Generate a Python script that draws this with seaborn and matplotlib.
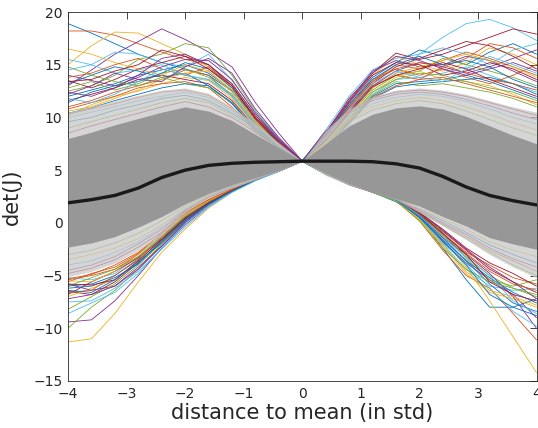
import numpy as np
import pandas as pd
import seaborn as sns
import matplotlib
import matplotlib.pyplot as plt
matplotlib.use('Agg')

sns.set_theme(style='white')
plt.rcParams['font.family'] = ['DejaVu Sans']

# grid of the curves (in std)
x_left = [-4.0, -3.6, -3.2, -2.8, -2.4, -2.0, -1.6, -1.2, -0.8, -0.4]
x_mid = [0.0]
x_right = [0.4, 0.8, 1.2, 1.6, 2.0, 2.4, 2.8, 3.2, 3.6, 4.0]
y_at_zero = 5.85

# left halves of the individual curves (x = -4 ... -0.4)
left_halves = [
    [18.9, 18.0, 17.0, 16.0, 15.2, 14.6, 14.0, 12.5, 10.0, 7.8],
    [18.2, 18.2, 17.8, 17.0, 16.2, 15.5, 15.0, 13.2, 10.2, 7.9],
    [15.0, 16.8, 18.1, 18.0, 17.0, 16.0, 14.8, 12.8, 10.0, 7.6],
    [13.0, 14.5, 16.0, 17.2, 18.4, 17.4, 16.2, 14.8, 11.4, 8.5],
    [12.5, 13.0, 14.0, 15.5, 16.0, 17.0, 16.6, 14.0, 10.6, 8.0],
    [14.5, 15.0, 16.2, 16.0, 15.2, 14.8, 16.0, 13.5, 10.5, 8.0],
    [13.5, 12.8, 13.6, 14.6, 15.2, 15.8, 15.0, 13.0, 10.0, 7.7],
    [12.0, 12.6, 13.2, 14.0, 14.5, 15.0, 14.2, 12.6, 9.6, 7.5],
    [11.0, 11.6, 12.4, 13.0, 13.6, 14.5, 14.0, 12.0, 9.2, 7.3],
    [10.2, 11.2, 12.0, 12.5, 13.2, 13.8, 13.5, 11.8, 9.0, 7.2],
    [14.0, 13.5, 13.0, 13.8, 14.8, 15.5, 15.4, 13.6, 10.4, 7.9],
    [12.8, 13.4, 12.6, 13.2, 14.2, 14.6, 13.8, 12.2, 9.4, 7.4],
    [15.5, 15.0, 14.2, 14.5, 15.0, 14.0, 13.6, 12.0, 9.3, 7.3],
    [11.6, 12.2, 12.8, 13.6, 14.0, 13.6, 13.2, 11.6, 9.0, 7.2],
    [13.2, 14.0, 14.8, 14.4, 13.8, 14.2, 13.0, 11.3, 8.8, 7.1],
    [10.8, 11.4, 12.0, 12.8, 13.2, 13.4, 12.8, 11.0, 8.6, 7.0],
    [16.5, 16.0, 15.2, 14.6, 14.0, 15.0, 14.4, 12.4, 9.5, 7.4],
    [12.4, 12.0, 12.8, 14.0, 15.6, 16.0, 15.0, 13.2, 10.2, 7.8],
    [9.0, 9.6, 10.2, 10.8, 11.4, 11.8, 11.4, 10.2, 8.8, 7.3],
    [10.0, 10.5, 11.0, 11.6, 12.0, 12.4, 11.9, 10.6, 9.1, 7.5],
    [8.5, 9.2, 9.8, 10.4, 11.0, 11.5, 11.0, 10.0, 8.6, 7.2],
    [9.6, 10.0, 10.7, 11.2, 11.8, 12.1, 11.6, 10.4, 9.0, 7.4],
    [10.3, 10.8, 11.3, 11.9, 12.4, 12.6, 12.1, 10.8, 9.2, 7.5],
    [-11.3, -11.0, -8.6, -5.6, -2.8, -0.6, 1.4, 2.9, 4.0, 4.9],
    [-9.4, -9.2, -7.4, -5.0, -2.4, -0.2, 1.6, 3.0, 4.1, 4.9],
    [-10.0, -8.0, -6.4, -4.4, -2.0, 0.2, 1.8, 3.1, 4.1, 5.0],
    [-7.5, -7.4, -6.2, -4.6, -2.5, -0.4, 1.5, 2.9, 4.0, 4.9],
    [-6.5, -6.8, -5.6, -3.8, -1.8, 0.4, 1.9, 3.1, 4.1, 5.0],
    [-6.0, -5.8, -5.0, -3.5, -1.6, 0.5, 2.0, 3.2, 4.2, 5.0],
    [-5.4, -5.0, -4.4, -3.0, -1.0, 0.8, 2.1, 3.2, 4.2, 5.0],
    [-7.0, -6.2, -5.4, -3.6, -1.4, 0.6, 2.0, 3.1, 4.1, 5.0],
    [-5.8, -6.4, -6.0, -4.2, -2.2, 0.0, 1.7, 3.0, 4.1, 4.9],
    [-8.2, -7.0, -5.8, -4.0, -1.9, 0.3, 1.8, 3.1, 4.1, 5.0],
    [-5.2, -5.4, -4.8, -3.2, -1.2, 0.7, 2.1, 3.2, 4.2, 5.0],
    [-6.8, -5.6, -4.6, -3.3, -1.5, 0.5, 1.9, 3.1, 4.1, 5.0],
    [-6.2, -6.0, -5.2, -3.9, -1.7, 0.3, 1.8, 3.0, 4.1, 4.9],
    [-5.6, -4.8, -4.2, -2.9, -1.1, 0.9, 2.2, 3.2, 4.2, 5.0],
    [-3.5, -3.0, -2.4, -1.5, -0.2, 1.4, 2.6, 3.4, 4.2, 5.0],
    [-4.5, -4.0, -3.2, -2.0, -0.6, 1.2, 2.5, 3.4, 4.2, 5.0],
    [-3.0, -2.6, -1.9, -1.0, 0.2, 1.6, 2.7, 3.5, 4.2, 5.0],
    [-4.0, -3.6, -2.8, -1.8, -0.4, 1.3, 2.5, 3.4, 4.2, 5.0],
    [-4.8, -4.3, -3.5, -2.3, -0.9, 1.1, 2.4, 3.3, 4.1, 4.9],
    [11.4, 12.4, 13.0, 13.4, 14.2, 15.2, 14.6, 12.8, 9.8, 7.5],
    [13.8, 14.2, 15.0, 15.6, 14.6, 14.0, 14.8, 13.0, 9.8, 7.6],
    [10.6, 11.0, 11.8, 12.6, 13.6, 14.2, 14.4, 12.6, 9.6, 7.4],
    [12.2, 13.0, 14.2, 13.6, 13.4, 14.8, 15.6, 14.2, 10.8, 8.1],
    [14.8, 14.0, 13.4, 13.0, 13.8, 13.2, 12.8, 11.4, 8.9, 7.1],
    [11.8, 11.4, 12.2, 13.4, 14.6, 14.0, 13.6, 12.2, 9.4, 7.3],
    [13.4, 13.6, 14.4, 15.0, 16.4, 15.8, 14.6, 13.0, 9.9, 7.6],
    [10.4, 10.9, 11.6, 12.2, 12.8, 13.2, 13.0, 11.4, 8.8, 7.1],
    [-6.6, -6.4, -5.0, -3.4, -1.3, 0.6, 2.0, 3.1, 4.1, 5.0],
    [-5.5, -5.6, -4.6, -3.0, -1.1, 0.8, 2.1, 3.2, 4.2, 5.0],
    [-7.2, -6.8, -6.0, -4.4, -2.2, 0.1, 1.8, 3.0, 4.1, 4.9],
    [-6.0, -5.2, -4.4, -3.2, -1.4, 0.6, 2.0, 3.1, 4.1, 5.0],
    [-8.6, -7.6, -6.6, -4.8, -2.4, -0.1, 1.6, 3.0, 4.0, 4.9],
    [-5.8, -5.9, -5.4, -3.6, -1.6, 0.4, 1.9, 3.1, 4.1, 5.0],
    [-6.4, -6.6, -5.4, -3.7, -1.9, 0.2, 1.8, 3.0, 4.1, 4.9],
    [-5.3, -4.9, -4.0, -2.8, -1.0, 1.0, 2.2, 3.2, 4.2, 5.0],
]

# right halves of the individual curves (x = 0.4 ... 4)
right_halves = [
    [4.6, 3.7, 2.9, 2.0, 0.6, -2.4, -5.4, -8.0, -8.0, -7.2],
    [4.7, 3.8, 3.0, 2.1, 0.2, -2.6, -5.0, -6.2, -8.6, -11.1],
    [4.6, 3.7, 2.9, 2.1, 0.8, -1.6, -4.2, -7.4, -10.8, -14.2],
    [4.7, 3.9, 3.1, 2.2, 0.6, -1.8, -3.8, -5.4, -6.8, -9.0],
    [4.8, 4.0, 3.2, 2.3, 0.9, -1.2, -3.2, -5.0, -6.2, -7.0],
    [4.7, 3.9, 3.0, 2.2, 0.4, -2.0, -4.4, -6.0, -6.4, -6.2],
    [4.8, 4.0, 3.2, 2.3, 1.0, -0.8, -2.6, -4.4, -5.6, -6.6],
    [4.7, 3.8, 3.1, 2.2, 0.7, -1.4, -3.6, -5.8, -7.6, -8.4],
    [4.8, 4.0, 3.2, 2.3, 1.0, -1.0, -2.8, -4.0, -5.2, -5.8],
    [4.6, 3.8, 3.0, 2.1, 0.3, -2.2, -4.8, -6.6, -7.2, -8.0],
    [4.7, 3.9, 3.1, 2.2, 0.8, -1.4, -3.0, -4.8, -7.0, -10.0],
    [4.8, 4.0, 3.1, 2.3, 0.9, -0.9, -3.4, -5.4, -6.0, -5.4],
    [4.7, 3.9, 3.1, 2.2, 0.5, -1.9, -3.9, -6.2, -8.4, -9.8],
    [4.8, 4.0, 3.2, 2.3, 1.0, -0.6, -2.4, -3.8, -4.8, -6.0],
    [4.6, 3.7, 2.9, 2.2, 1.3, 0.2, -0.9, -2.1, -3.0, -3.8],
    [4.6, 3.7, 2.9, 2.2, 1.1, -0.1, -1.3, -2.6, -3.6, -4.6],
    [4.7, 3.7, 2.9, 2.3, 1.4, 0.4, -0.6, -1.8, -2.6, -3.2],
    [4.6, 3.6, 2.9, 2.2, 1.2, 0.0, -1.1, -2.4, -3.4, -4.2],
    [4.6, 3.7, 2.9, 2.2, 1.0, -0.2, -1.5, -2.8, -4.0, -5.0],
    [8.8, 12.0, 14.5, 15.6, 16.0, 17.6, 18.9, 19.3, 18.5, 17.3],
    [8.5, 11.8, 14.2, 16.1, 15.5, 16.0, 16.8, 17.6, 18.4, 17.9],
    [8.2, 11.2, 13.8, 15.2, 16.4, 15.8, 15.0, 16.2, 17.0, 16.0],
    [8.0, 10.8, 13.4, 15.0, 14.6, 15.4, 16.2, 15.6, 14.8, 14.0],
    [8.4, 11.5, 14.0, 15.8, 15.0, 14.4, 15.2, 16.6, 16.0, 15.0],
    [7.8, 10.5, 13.0, 14.4, 15.2, 14.8, 14.2, 14.8, 15.6, 16.4],
    [7.6, 10.2, 12.6, 14.0, 14.4, 15.6, 15.0, 14.4, 13.8, 13.0],
    [7.4, 9.8, 12.2, 13.6, 13.8, 14.2, 14.8, 14.0, 13.2, 12.4],
    [7.9, 10.6, 13.2, 14.8, 15.6, 16.4, 17.2, 16.8, 15.8, 14.6],
    [7.2, 9.6, 12.0, 13.2, 13.4, 13.6, 14.0, 13.4, 12.6, 11.8],
    [8.1, 11.0, 13.6, 14.6, 14.0, 14.6, 13.8, 13.2, 14.0, 15.0],
    [7.5, 10.0, 12.4, 13.8, 14.4, 13.6, 13.4, 13.0, 12.2, 11.2],
    [8.6, 11.6, 14.4, 15.4, 14.8, 15.0, 15.8, 15.4, 14.4, 13.4],
    [7.3, 9.7, 12.1, 13.4, 13.0, 13.2, 12.8, 12.4, 11.8, 11.0],
    [7.7, 10.4, 12.8, 14.2, 16.0, 16.6, 16.0, 15.0, 16.4, 17.0],
    [8.3, 11.4, 14.0, 15.2, 15.0, 14.0, 14.4, 15.2, 14.6, 13.6],
    [7.0, 9.4, 11.8, 12.9, 13.2, 13.4, 13.6, 13.8, 13.2, 12.2],
    [8.0, 10.9, 13.0, 14.0, 13.6, 14.8, 15.6, 17.0, 16.6, 15.6],
    [8.0, 9.8, 11.0, 11.6, 11.9, 11.6, 11.0, 10.3, 9.5, 8.8],
    [8.5, 10.4, 11.6, 12.2, 12.4, 12.2, 11.7, 11.1, 10.4, 9.8],
    [7.8, 9.6, 10.7, 11.3, 11.6, 11.3, 10.6, 9.8, 9.0, 8.3],
    [8.3, 10.1, 11.3, 11.9, 12.2, 12.0, 11.5, 10.8, 10.0, 9.4],
    [8.7, 10.6, 11.8, 12.4, 12.6, 12.4, 12.0, 11.4, 10.8, 10.2],
    [4.7, 3.8, 3.0, 2.2, 0.6, -1.6, -3.6, -5.2, -6.6, -7.6],
    [4.8, 3.9, 3.1, 2.3, 0.8, -1.1, -2.9, -4.6, -5.8, -6.4],
    [4.7, 3.8, 3.0, 2.2, 0.4, -2.1, -4.6, -6.4, -7.0, -7.8],
    [4.8, 4.0, 3.2, 2.3, 1.0, -0.7, -2.5, -4.2, -5.6, -7.2],
    [4.6, 3.7, 2.9, 2.1, 0.2, -2.4, -4.4, -5.6, -6.2, -6.8],
    [4.7, 3.9, 3.1, 2.2, 0.7, -1.3, -3.3, -5.0, -7.4, -8.6],
    [4.8, 3.9, 3.1, 2.3, 0.9, -1.0, -3.0, -5.6, -6.8, -7.4],
    [4.7, 3.8, 3.0, 2.2, 0.5, -1.7, -4.0, -6.8, -8.0, -8.8],
    [8.2, 11.0, 13.4, 14.6, 15.2, 15.0, 14.2, 13.6, 13.2, 12.6],
    [7.6, 10.3, 12.8, 14.2, 14.8, 15.4, 16.0, 15.4, 14.8, 13.8],
    [8.5, 11.5, 14.2, 15.8, 15.4, 14.6, 14.0, 14.6, 15.2, 14.4],
    [7.4, 9.9, 12.4, 13.6, 14.2, 14.0, 13.4, 12.8, 12.4, 11.6],
    [8.0, 10.8, 13.2, 14.4, 13.8, 13.4, 14.6, 15.8, 15.0, 14.2],
    [7.8, 10.4, 12.9, 14.0, 14.6, 15.2, 14.6, 13.6, 12.8, 12.0],
    [8.3, 11.2, 13.6, 15.0, 15.8, 15.0, 15.4, 14.8, 13.6, 12.8],
    [7.2, 9.5, 11.9, 13.0, 13.6, 13.8, 13.2, 12.6, 12.0, 11.4],
]

# summary curves (x = -4 ... 4)
mean_curve = [1.9, 2.2, 2.6, 3.3, 4.3, 5.0, 5.45, 5.65, 5.75, 5.8, 5.85,
              5.85, 5.85, 5.8, 5.6, 5.2, 4.4, 3.4, 2.6, 2.1, 1.7]
band_top = [8.0, 8.6, 9.3, 9.9, 10.5, 11.0, 10.6, 9.7, 8.4, 7.1, 5.85,
            7.5, 9.2, 10.3, 10.9, 11.1, 10.8, 10.1, 9.2, 8.3, 7.5]
band_bot = [-2.3, -1.9, -1.3, -0.4, 0.6, 1.8, 2.8, 3.6, 4.3, 5.0, 5.85,
            4.7, 3.7, 2.9, 2.3, 1.6, 0.6, -0.3, -1.4, -2.0, -2.5]
wide_top = [10.5, 11.0, 11.6, 12.1, 12.6, 12.8, 12.3, 11.0, 9.4, 7.6, 5.85,
            8.8, 10.8, 12.0, 12.6, 12.8, 12.6, 12.2, 11.6, 11.0, 10.5]
wide_bot = [-5.1, -4.6, -3.8, -2.6, -1.2, 1.0, 2.4, 3.3, 4.1, 4.9, 5.85,
            4.5, 3.6, 2.9, 2.2, 1.0, -0.3, -1.6, -3.0, -4.2, -5.2]

matlab_colors = ['#0072BD', '#D95319', '#EDB120', '#7E2F8E',
                 '#77AC30', '#4DBEEE', '#A2142F']

x_all = x_left + x_mid + x_right

# tabela longa com todas as curvas
rows = []
for i, (lh, rh) in enumerate(zip(left_halves, right_halves)):
    ys = lh + [y_at_zero] + rh
    for xv, yv in zip(x_all, ys):
        rows.append({'line': i, 'x': xv, 'y': yv})
df = pd.DataFrame(rows)
palette = [matlab_colors[i % len(matlab_colors)] for i in range(len(left_halves))]

fig = plt.figure(figsize=(5.38, 4.28), dpi=100)
ax = fig.add_axes([68 / 538, 1 - 381 / 428, 468.5 / 538, 369 / 428])

sns.lineplot(data=df, x='x', y='y', hue='line', palette=palette,
             estimator=None, sort=False, lw=0.6, legend=False, ax=ax, zorder=1)

ax.fill_between(x_all, wide_bot, wide_top, color='#c8c8c8', alpha=0.75,
                lw=0, zorder=2)
ax.fill_between(x_all, band_bot, band_top, color='#979797', lw=0, zorder=3)
sns.lineplot(x=x_all, y=mean_curve, color='k', lw=2.4, ax=ax, zorder=4)

ax.set_xlim(-4, 4)
ax.set_ylim(-15, 20)
ax.set_xticks(range(-4, 5))
ax.set_yticks(range(-15, 21, 5))
ax.tick_params(direction='in', top=True, right=True, length=5, width=0.6,
               labelsize=10, colors='#262626', pad=4)
for sp in ax.spines.values():
    sp.set_color('#262626')
    sp.set_linewidth(0.6)
ax.set_xlabel('distance to mean (in std)', fontsize=15, color='#262626',
              labelpad=2)
ax.set_ylabel('det(J)', fontsize=15, color='#262626', labelpad=8)

fig.savefig('out.png', dpi=100)
plt.close()
